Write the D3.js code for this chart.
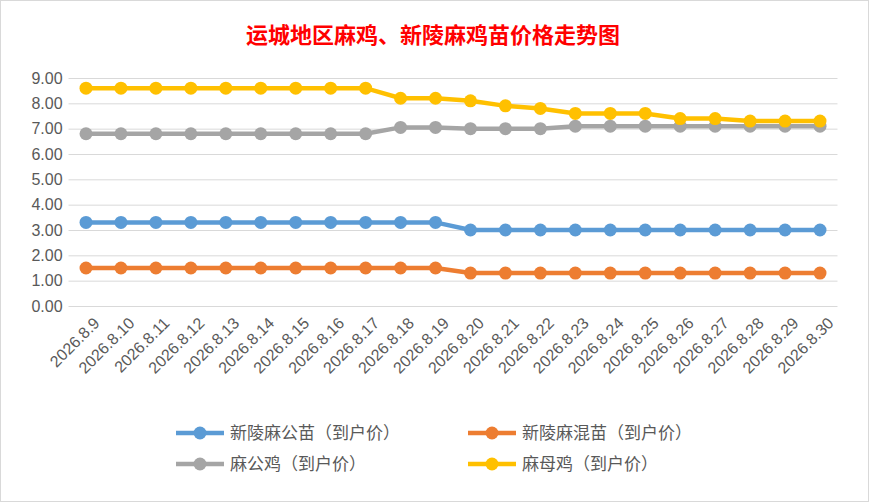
<!DOCTYPE html>
<html><head><meta charset="utf-8">
<script src="https://cdn.jsdelivr.net/npm/d3@7"></script>
<style>body{margin:0;background:#fff;font-family:"Noto Sans CJK SC","Noto Sans",sans-serif}</style>
</head><body><div id="viz"></div>
<script>
var dates = [];
for (var i = 9; i <= 30; i++) dates.push("2026.8." + i);
var seriesNames = ["新陵麻公苗（到户价）", "新陵麻混苗（到户价）", "麻公鸡（到户价）", "麻母鸡（到户价）"];
var colors = ["#5b9bd5", "#ed7d31", "#a5a5a5", "#ffc000"];
var gongMiao = [3.3,3.3,3.3,3.3,3.3,3.3,3.3,3.3,3.3,3.3,3.3,3.0,3.0,3.0,3.0,3.0,3.0,3.0,3.0,3.0,3.0,3.0];
var hunMiao = [1.5,1.5,1.5,1.5,1.5,1.5,1.5,1.5,1.5,1.5,1.5,1.3,1.3,1.3,1.3,1.3,1.3,1.3,1.3,1.3,1.3,1.3];
var gongJi = [6.8,6.8,6.8,6.8,6.8,6.8,6.8,6.8,6.8,7.05,7.05,7.0,7.0,7.0,7.1,7.1,7.1,7.1,7.1,7.1,7.1,7.1];
var muJi = [8.6,8.6,8.6,8.6,8.6,8.6,8.6,8.6,8.6,8.2,8.2,8.1,7.9,7.8,7.6,7.6,7.6,7.4,7.4,7.3,7.3,7.3];
var yTicks = [0,1,2,3,4,5,6,7,8,9];
var allSeries = [gongMiao, hunMiao, gongJi, muJi];

var W = 869, H = 502;
var svg = d3.select("#viz").append("svg").attr("width", W).attr("height", H);
svg.append("rect").attr("x",0.5).attr("y",0.5).attr("width",W-1).attr("height",H-1)
  .attr("fill","#fff").attr("stroke","#d9d9d9");

var step = (820 - 86) / 21;
var x = d3.scalePoint().domain(dates).range([86, 820]);
var y = d3.scaleLinear().domain([0, 9]).range([306, 78]);

svg.append("text").attr("x", 433).attr("y", 43).attr("text-anchor","middle")
  .attr("fill","#ff0000").attr("font-size",22).attr("font-weight","bold").text("运城地区麻鸡、新陵麻鸡苗价格走势图");

var yAxis = svg.append("g").attr("transform","translate(" + (86 - step/2) + ",0)")
  .call(d3.axisLeft(y).tickValues(yTicks).tickFormat(d3.format(".2f")).tickSize(-(step*22)).tickPadding(6));
yAxis.select(".domain").remove();
yAxis.selectAll("line").attr("stroke","#d9d9d9");
yAxis.selectAll("text").attr("font-size",16).attr("fill","#595959").attr("font-family","Liberation Sans, Arial");

var xAxis = svg.append("g").attr("transform","translate(0,306)").call(d3.axisBottom(x).tickSize(0));
xAxis.select(".domain").remove();
xAxis.selectAll("text").attr("font-size",16).attr("fill","#595959").attr("font-family","Liberation Sans, Arial")
  .attr("text-anchor","end").attr("transform","translate(8,12) rotate(-45)").attr("dy","0.35em").attr("dx",0);

var line = d3.line().x(function(d,i){ return x(dates[i]); }).y(function(d){ return y(d); });
allSeries.forEach(function(s, k){
  var g = svg.append("g");
  g.append("path").datum(s).attr("d", line).attr("fill","none").attr("stroke",colors[k]).attr("stroke-width",4.5);
  g.selectAll("circle").data(s).enter().append("circle")
    .attr("cx", function(d,i){ return x(dates[i]); }).attr("cy", function(d){ return y(d); })
    .attr("r", 6.5).attr("fill", colors[k]);
});

var legendPos = [[176,433],[468,433],[176,464],[468,464]];
seriesNames.forEach(function(n, k){
  var g = svg.append("g").attr("transform","translate(" + legendPos[k][0] + "," + legendPos[k][1] + ")");
  g.append("line").attr("x1",0).attr("x2",48).attr("stroke",colors[k]).attr("stroke-width",4.5);
  g.append("circle").attr("cx",24).attr("r",6.5).attr("fill",colors[k]);
  g.append("text").attr("x",54).attr("dy","0.35em").attr("font-size",17).attr("fill","#595959").text(n);
});
</script></body></html>
